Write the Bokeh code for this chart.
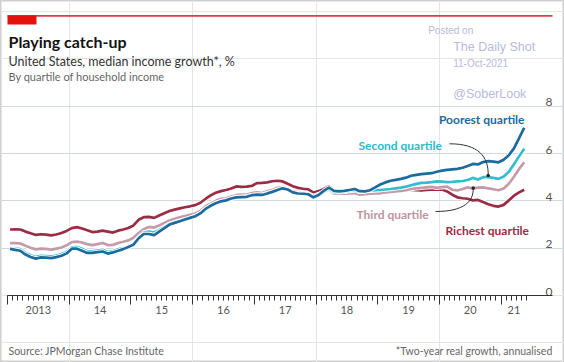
import numpy as np
from bokeh.plotting import figure
from bokeh.models import LinearAxis, FixedTicker, Grid, Label, BoxAnnotation
from bokeh.core.properties import value
from bokeh.embed import file_html
from bokeh.resources import INLINE

# ---------------- data (monthly, Jan 2013 - May 2021) ----------------
poorest = [
    1.97, 1.93, 1.89, 1.73, 1.63, 1.56, 1.61, 1.60, 1.58, 1.62, 1.68, 1.78,
    1.98, 1.98, 1.89, 1.80, 1.80, 1.83, 1.86, 1.77, 1.82, 1.89, 1.96, 2.05,
    2.15, 2.42, 2.60, 2.60, 2.55, 2.70, 2.85, 3.00, 3.07, 3.14, 3.21, 3.28,
    3.35, 3.47, 3.66, 3.79, 3.90, 3.98, 4.02, 4.10, 4.15, 4.16, 4.17, 4.24,
    4.26, 4.25, 4.31, 4.38, 4.46, 4.53, 4.48, 4.36, 4.31, 4.30, 4.28, 4.15,
    4.25, 4.42, 4.56, 4.42, 4.40, 4.42, 4.46, 4.50, 4.41, 4.40, 4.45, 4.57,
    4.69, 4.78, 4.85, 4.89, 4.93, 4.98, 5.06, 5.10, 5.13, 5.15, 5.17, 5.23,
    5.28, 5.31, 5.33, 5.35, 5.40, 5.47, 5.56, 5.54, 5.64, 5.68, 5.66, 5.63,
    5.74, 5.93, 6.22, 6.65, 7.09]
second = [
    2.00, 1.98, 1.96, 1.80, 1.70, 1.63, 1.68, 1.67, 1.65, 1.69, 1.75, 1.85,
    2.04, 2.05, 1.97, 1.87, 1.87, 1.90, 1.93, 1.84, 1.88, 1.95, 2.00, 2.08,
    2.18, 2.45, 2.66, 2.70, 2.66, 2.77, 2.90, 3.03, 3.10, 3.16, 3.22, 3.28,
    3.35, 3.47, 3.66, 3.79, 3.90, 3.98, 4.02, 4.10, 4.15, 4.16, 4.17, 4.24,
    4.26, 4.25, 4.31, 4.38, 4.46, 4.53, 4.48, 4.36, 4.31, 4.30, 4.28, 4.13,
    4.23, 4.38, 4.50, 4.37, 4.37, 4.38, 4.42, 4.45, 4.38, 4.40, 4.43, 4.45,
    4.46, 4.48, 4.50, 4.53, 4.56, 4.60, 4.66, 4.72, 4.76, 4.77, 4.79, 4.82,
    4.81, 4.79, 4.80, 4.82, 4.84, 4.88, 4.97, 4.90, 5.00, 5.00, 4.97, 4.93,
    5.03, 5.23, 5.55, 5.88, 6.20]
third = [
    2.21, 2.21, 2.20, 2.10, 2.02, 1.95, 1.98, 1.97, 1.94, 1.98, 2.03, 2.12,
    2.26, 2.28, 2.24, 2.17, 2.13, 2.17, 2.22, 2.13, 2.14, 2.22, 2.27, 2.33,
    2.44, 2.64, 2.80, 2.90, 2.87, 2.96, 3.07, 3.17, 3.24, 3.30, 3.36, 3.41,
    3.46, 3.57, 3.76, 3.88, 4.00, 4.09, 4.11, 4.18, 4.24, 4.26, 4.26, 4.33,
    4.36, 4.33, 4.40, 4.46, 4.55, 4.58, 4.52, 4.42, 4.36, 4.34, 4.30, 4.20,
    4.28, 4.36, 4.46, 4.30, 4.30, 4.30, 4.31, 4.33, 4.26, 4.28, 4.30, 4.31,
    4.32, 4.36, 4.38, 4.40, 4.42, 4.45, 4.50, 4.53, 4.55, 4.57, 4.59, 4.55,
    4.58, 4.60, 4.47, 4.44, 4.50, 4.57, 4.52, 4.56, 4.57, 4.53, 4.49, 4.45,
    4.52, 4.72, 5.02, 5.35, 5.63]
richest = [
    2.79, 2.80, 2.79, 2.70, 2.63, 2.56, 2.59, 2.57, 2.54, 2.58, 2.64, 2.73,
    2.85, 2.89, 2.83, 2.76, 2.68, 2.70, 2.74, 2.70, 2.66, 2.74, 2.79, 2.85,
    2.96, 3.20, 3.31, 3.32, 3.28, 3.38, 3.48, 3.57, 3.63, 3.68, 3.73, 3.77,
    3.82, 3.92, 4.08, 4.23, 4.34, 4.41, 4.46, 4.52, 4.61, 4.59, 4.60, 4.63,
    4.75, 4.76, 4.78, 4.83, 4.85, 4.82, 4.72, 4.62, 4.55, 4.51, 4.49, 4.35,
    4.41, 4.50, 4.61, 4.44, 4.41, 4.41, 4.41, 4.46, 4.39, 4.39, 4.42, 4.44,
    4.46, 4.47, 4.47, 4.47, 4.47, 4.47, 4.46, 4.45, 4.44, 4.46, 4.47, 4.47,
    4.48, 4.40, 4.26, 4.15, 4.11, 4.09, 4.02, 4.04, 3.95, 3.86, 3.79, 3.76,
    3.83, 4.02, 4.22, 4.36, 4.47]

series_names = ["Poorest quartile", "Second quartile", "Third quartile", "Richest quartile"]
start_year = 2013
n_months = len(poorest)
x = [start_year + (i + 0.5) / 12 for i in range(n_months)]

year_ticks = list(range(2013, 2022))
month_ticks = [start_year + i / 12 for i in range(n_months + 1)]
year_labels = ["2013", "14", "15", "16", "17", "18", "19", "20", "21"]
year_label_pos = [y + 0.5 for y in range(2013, 2021)] + [(2021 + month_ticks[-1]) / 2]
y_ticks = [0, 2, 4, 6, 8]

# ---------------- geometry helpers (canvas px -> data) ----------------
W, H = 564, 362

def px(cx):
    return 2013 + (cx - 7) / 61.7

def py(cy):
    return (295 - cy) / 23.66

C_POOR = "#1b6b9f"
C_SECOND = "#36bcd0"
C_THIRD = "#c49ca7"
C_RICH = "#9c2c46"
FONT = "Lato"

p = figure(width=W, height=H, x_range=(px(0), px(W)), y_range=(py(H), py(0)),
           output_backend="svg", toolbar_location=None, min_border=0,
           x_axis_location=None, y_axis_location=None)
p.outline_line_color = "#cfcfcf"
p.outline_line_width = 2
p.background_fill_color = "white"
p.border_fill_color = "white"

grid = Grid(dimension=1, ticker=FixedTicker(ticks=[t for t in y_ticks if t > 0]),
            grid_line_color="#d2dae0", grid_line_width=1, bounds=(px(7), px(555)))
p.add_layout(grid)

ax_ticks = LinearAxis(fixed_location=0, bounds=(px(7), px(552)),
                      ticker=FixedTicker(ticks=year_ticks, minor_ticks=month_ticks),
                      axis_line_color="#333333", axis_line_width=1,
                      major_tick_line_color="#333333", minor_tick_line_color="#333333",
                      major_tick_in=0, major_tick_out=9, minor_tick_in=0, minor_tick_out=5,
                      major_label_text_color=None)
p.add_layout(ax_ticks, "below")

ax_labels = LinearAxis(fixed_location=0,
                       ticker=FixedTicker(ticks=year_label_pos, minor_ticks=[]),
                       axis_line_color=None, major_tick_line_color=None,
                       minor_tick_line_color=None, major_tick_in=0, major_tick_out=0,
                       major_label_standoff=10,
                       major_label_overrides=dict(zip(year_label_pos, year_labels)),
                       major_label_text_font=FONT, major_label_text_font_size="11px",
                       major_label_text_color="#555555")
p.add_layout(ax_labels, "below")

# right-hand value labels sitting on the gridlines
p.text(x=[px(552)] * len(y_ticks), y=y_ticks, text=[str(t) for t in y_ticks],
       text_align="right", text_baseline="alphabetic", y_offset=-4,
       text_font=value(FONT), text_font_size="12px", text_color="#555555")

# lines with white casing
for vals, col in [(richest, C_RICH), (third, C_THIRD), (second, C_SECOND), (poorest, C_POOR)]:
    p.line(x, vals, line_color="white", line_width=4.5, line_join="round")
    p.line(x, vals, line_color=col, line_width=2.7, line_join="round")

# annotation arrows
p.bezier(x0=[px(449), px(435)], y0=[py(143.3), py(211)],
         x1=[px(487.7), px(472.7)], y1=[py(174.5), py(188)],
         cx0=[px(478), px(465)], cy0=[py(143.3), py(211)],
         cx1=[px(488), px(473)], cy1=[py(156), py(200)],
         line_color="#333333", line_width=1)
p.scatter(x=[px(487.7), px(472.7)], y=[py(175), py(187.5)], size=3.5,
          fill_color="#222222", line_color=None)

def lab(txt, x0, y0, color, size="12px", style="bold", align="left", font=FONT):
    p.add_layout(Label(x=x0, y=y0, text=txt, text_color=color, text_font=font,
                       text_font_size=size, text_font_style=style, text_align=align,
                       text_baseline="alphabetic"))

lab(series_names[0], px(524), py(119.3), C_POOR, align="right")
lab(series_names[1], px(358), py(145), "#2fb8cc")
lab(series_names[2], px(356), py(214.3), "#bd94a0")
lab(series_names[3], px(528.5), py(230), C_RICH, align="right")

# header
p.add_layout(BoxAnnotation(left=px(7), right=px(552), top=py(14.4), bottom=py(16.2),
                           fill_color="#e8383d", fill_alpha=1, line_color=None))
p.add_layout(BoxAnnotation(left=px(7), right=px(36), top=py(15), bottom=py(24),
                           fill_color="#e3120b", fill_alpha=1, line_color=None))
lab("Playing catch-up", px(8), py(40.7), "#121212", size="16px")
lab("United States, median income growth*, %", px(8), py(61), "#333333", size="12.5px", style="normal")
lab("By quartile of household income", px(8), py(75.5), "#666666", size="11px", style="normal")

# footer
lab("Source: JPMorgan Chase Institute", px(8), py(350), "#666666", size="10.5px", style="normal")
lab("*Two-year real growth, annualised", px(552), py(350), "#666666", size="10.5px",
    style="normal", align="right")

# watermark
WM = "#b7badb"
lab("Posted on", px(427.7), py(30), WM, size="10px", style="normal", font="Liberation Sans")
lab("The Daily Shot", px(452.7), py(46.7), WM, size="12.5px", style="normal", font="Liberation Sans")
lab("11-Oct-2021", px(452.7), py(63.3), WM, size="10px", style="normal", font="Liberation Sans")
lab("@SoberLook", px(452.7), py(93.3), WM, size="12.5px", style="normal", font="Liberation Sans")

open("out.html", "w").write(file_html(p, INLINE))
